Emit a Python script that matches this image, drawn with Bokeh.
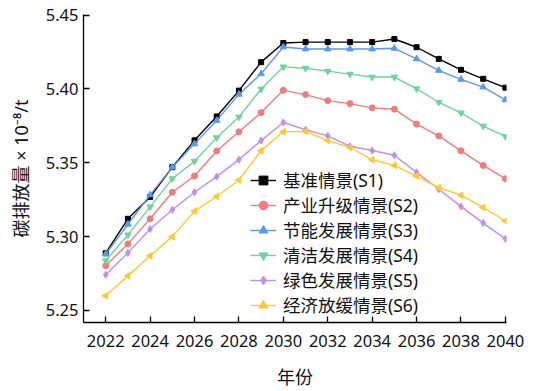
from bokeh.plotting import figure
from bokeh.models import Range1d, Legend, LegendItem, FixedTicker, CustomJSTickFormatter
from bokeh.embed import file_html
from bokeh.resources import INLINE

years = list(range(2022, 2041))

s1 = [5.2887, 5.3120, 5.3268, 5.3470, 5.3652, 5.3814, 5.3989, 5.4182, 5.4312, 5.4318,
      5.4318, 5.4318, 5.4318, 5.4339, 5.4283, 5.4204, 5.4130, 5.4069, 5.4009]
s2 = [5.2802, 5.2950, 5.3120, 5.3300, 5.3410, 5.3580, 5.3710, 5.3840, 5.3991, 5.3962,
      5.3921, 5.3901, 5.3872, 5.3863, 5.3762, 5.3682, 5.3581, 5.3482, 5.3392]
s3 = [5.2881, 5.3083, 5.3282, 5.3470, 5.3628, 5.3787, 5.3964, 5.4103, 5.4285, 5.4271,
      5.4271, 5.4271, 5.4271, 5.4276, 5.4204, 5.4126, 5.4065, 5.4013, 5.3926]
s4 = [5.2836, 5.3011, 5.3201, 5.3392, 5.3511, 5.3670, 5.3810, 5.4000, 5.4150, 5.4141,
      5.4121, 5.4101, 5.4081, 5.4081, 5.4002, 5.3910, 5.3838, 5.3749, 5.3679]
s5 = [5.2741, 5.2889, 5.3051, 5.3181, 5.3300, 5.3406, 5.3521, 5.3650, 5.3773, 5.3724,
      5.3682, 5.3612, 5.3583, 5.3551, 5.3435, 5.3320, 5.3204, 5.3091, 5.2984]
s6 = [5.2598, 5.2733, 5.2869, 5.2999, 5.3172, 5.3271, 5.3383, 5.3582, 5.3710, 5.3713,
      5.3650, 5.3605, 5.3520, 5.3482, 5.3410, 5.3332, 5.3280, 5.3197, 5.3105]

names = ["基准情景(S1)", "产业升级情景(S2)", "节能发展情景(S3)",
         "清洁发展情景(S4)", "绿色发展情景(S5)", "经济放缓情景(S6)"]
series = [s1, s2, s3, s4, s5, s6]
colors = ["#000000", "#f27b7b", "#5a9ae8", "#6fd39c", "#c28fe6", "#ffc832"]
markers = ["square", "circle", "triangle", "inverted_triangle", "diamond", "triangle"]
marker_sizes = [5, 6, 6.5, 6.5, 7, 6.5]
marker_angles = [0, 0, 0, 0, 0, 1.5708]

x_ticks = list(range(2022, 2041, 2))
y_ticks = [5.25, 5.30, 5.35, 5.40, 5.45]

FONT = "Noto Sans, Noto Sans CJK SC"

p = figure(width=537, height=391, output_backend="svg", toolbar_location=None,
           x_range=Range1d(2021.0, 2040.05), y_range=Range1d(5.2417, 5.4505),
           min_border_left=83, min_border_right=31, min_border_top=14,
           min_border_bottom=67)
p.outline_line_color = None
p.xgrid.visible = False
p.ygrid.visible = False
p.background_fill_color = "white"
p.border_fill_color = "white"

items = []
for name, ys, c, m, ms, ang in zip(names, series, colors, markers, marker_sizes, marker_angles):
    ln = p.line(years, ys, line_color=c, line_width=1.4)
    sc = p.scatter(years, ys, marker=m, size=ms, fill_color=c, line_color=c, angle=ang)
    items.append(LegendItem(label=name, renderers=[ln, sc]))

legend = Legend(items=items, location=(167, 5), padding=0, margin=0,
                border_line_color=None, background_fill_alpha=0,
                glyph_width=26, glyph_height=22, label_height=22, spacing=0,
                label_standoff=7, label_text_font=FONT, label_text_font_size="17.5px",
                label_text_color="#111111")
p.add_layout(legend, "center")

for ax in (p.xaxis[0], p.yaxis[0]):
    ax.axis_line_color = "#000000"
    ax.axis_line_width = 1.3
    ax.major_tick_line_color = "#000000"
    ax.major_tick_line_width = 1.3
    ax.major_tick_in = 6
    ax.major_tick_out = 0
    ax.minor_tick_line_color = None
    ax.major_label_text_font = FONT
    ax.major_label_text_font_size = "16.5px"
    ax.major_label_text_color = "#111111"
    ax.axis_label_text_font = FONT
    ax.axis_label_text_font_size = "18px"
    ax.axis_label_text_font_style = "normal"
    ax.axis_label_text_color = "#111111"

p.xaxis.ticker = FixedTicker(ticks=x_ticks)
p.yaxis.ticker = FixedTicker(ticks=y_ticks)
p.yaxis.formatter = CustomJSTickFormatter(code="return tick.toFixed(2);")
p.xaxis.major_label_standoff = 12
p.yaxis.major_label_standoff = 5
p.xaxis.axis_label = "年份"
p.xaxis.axis_label_standoff = 15
p.yaxis.axis_label = "碳排放量 × 10⁻⁸/t"
p.yaxis.axis_label_standoff = 10

open("out.html", "w").write(file_html(p, INLINE))
